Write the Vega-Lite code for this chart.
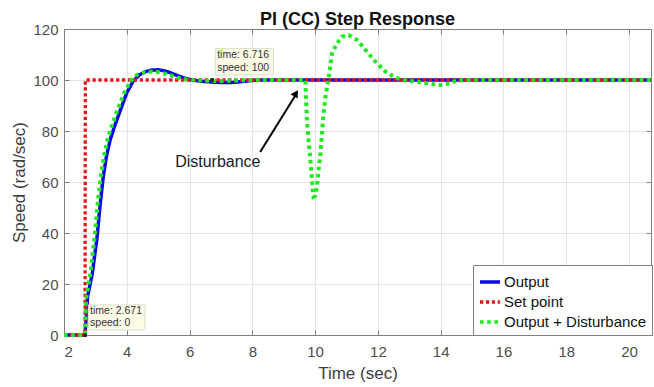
{
  "$schema": "https://vega.github.io/schema/vega-lite/v6.json",
  "width": 587,
  "height": 306,
  "autosize": {"type": "none"},
  "padding": {"left": 64, "top": 29, "right": 3, "bottom": 52},
  "title": {"text": "PI (CC) Step Response", "fontSize": 18, "fontWeight": "bold", "font": "Liberation Sans", "color": "#111111", "offset": -7, "anchor": "middle"},
  "config": {
    "view": {"stroke": "#808080", "strokeWidth": 1},
    "font": "Liberation Sans",
    "axis": {"domainColor": "#808080", "tickColor": "#808080", "gridColor": "#e4e4e4", "labelColor": "#4d4d4d", "titleColor": "#404040", "labelFontSize": 15, "titleFontSize": 17, "titleFontWeight": "normal", "labelFont": "Liberation Sans", "titleFont": "Liberation Sans", "tickSize": -5}
  },
  "datasets": {
    "curves": [
      {"series": "Output", "t": 2, "speed": 0},
      {"series": "Output", "t": 2.671, "speed": 0},
      {"series": "Output", "t": 2.75, "speed": 15},
      {"series": "Output", "t": 2.9, "speed": 24},
      {"series": "Output", "t": 3.05, "speed": 38},
      {"series": "Output", "t": 3.15, "speed": 51},
      {"series": "Output", "t": 3.25, "speed": 62},
      {"series": "Output", "t": 3.35, "speed": 70},
      {"series": "Output", "t": 3.47, "speed": 76.5},
      {"series": "Output", "t": 3.6, "speed": 81.5},
      {"series": "Output", "t": 3.79, "speed": 88},
      {"series": "Output", "t": 4.0, "speed": 95},
      {"series": "Output", "t": 4.2, "speed": 99.5},
      {"series": "Output", "t": 4.4, "speed": 102},
      {"series": "Output", "t": 4.6, "speed": 103.3},
      {"series": "Output", "t": 4.8, "speed": 103.9},
      {"series": "Output", "t": 5.0, "speed": 104},
      {"series": "Output", "t": 5.2, "speed": 103.6},
      {"series": "Output", "t": 5.4, "speed": 102.8},
      {"series": "Output", "t": 5.6, "speed": 101.8},
      {"series": "Output", "t": 5.8, "speed": 100.9},
      {"series": "Output", "t": 6.0, "speed": 100.2},
      {"series": "Output", "t": 6.3, "speed": 99.6},
      {"series": "Output", "t": 6.7, "speed": 99.2},
      {"series": "Output", "t": 7.0, "speed": 99.0},
      {"series": "Output", "t": 7.3, "speed": 99.0},
      {"series": "Output", "t": 7.6, "speed": 99.3},
      {"series": "Output", "t": 7.9, "speed": 99.7},
      {"series": "Output", "t": 8.2, "speed": 100},
      {"series": "Output", "t": 20.7, "speed": 100},
      {"series": "Set point", "t": 2, "speed": 0},
      {"series": "Set point", "t": 2.671, "speed": 0},
      {"series": "Set point", "t": 2.68, "speed": 100},
      {"series": "Set point", "t": 20.7, "speed": 100},
      {"series": "Output + Disturbance", "t": 2, "speed": 0},
      {"series": "Output + Disturbance", "t": 2.67, "speed": 0},
      {"series": "Output + Disturbance", "t": 2.7, "speed": 14},
      {"series": "Output + Disturbance", "t": 2.85, "speed": 25},
      {"series": "Output + Disturbance", "t": 2.97, "speed": 38},
      {"series": "Output + Disturbance", "t": 3.07, "speed": 51},
      {"series": "Output + Disturbance", "t": 3.17, "speed": 62},
      {"series": "Output + Disturbance", "t": 3.27, "speed": 70},
      {"series": "Output + Disturbance", "t": 3.39, "speed": 77},
      {"series": "Output + Disturbance", "t": 3.52, "speed": 82},
      {"series": "Output + Disturbance", "t": 3.71, "speed": 88.5},
      {"series": "Output + Disturbance", "t": 3.92, "speed": 95},
      {"series": "Output + Disturbance", "t": 4.12, "speed": 99.5},
      {"series": "Output + Disturbance", "t": 4.32, "speed": 102},
      {"series": "Output + Disturbance", "t": 4.55, "speed": 103},
      {"series": "Output + Disturbance", "t": 4.8, "speed": 103.3},
      {"series": "Output + Disturbance", "t": 5.0, "speed": 103.1},
      {"series": "Output + Disturbance", "t": 5.3, "speed": 102.2},
      {"series": "Output + Disturbance", "t": 5.6, "speed": 101},
      {"series": "Output + Disturbance", "t": 5.9, "speed": 100.2},
      {"series": "Output + Disturbance", "t": 6.3, "speed": 99.8},
      {"series": "Output + Disturbance", "t": 7.0, "speed": 99.6},
      {"series": "Output + Disturbance", "t": 7.5, "speed": 99.8},
      {"series": "Output + Disturbance", "t": 8.0, "speed": 100},
      {"series": "Output + Disturbance", "t": 9.69, "speed": 100},
      {"series": "Output + Disturbance", "t": 9.71, "speed": 93},
      {"series": "Output + Disturbance", "t": 9.74, "speed": 84},
      {"series": "Output + Disturbance", "t": 9.79, "speed": 76.5},
      {"series": "Output + Disturbance", "t": 9.85, "speed": 68.6},
      {"series": "Output + Disturbance", "t": 9.9, "speed": 60.8},
      {"series": "Output + Disturbance", "t": 9.95, "speed": 54.2},
      {"series": "Output + Disturbance", "t": 10.0, "speed": 54.5},
      {"series": "Output + Disturbance", "t": 10.06, "speed": 58.2},
      {"series": "Output + Disturbance", "t": 10.11, "speed": 64.7},
      {"series": "Output + Disturbance", "t": 10.17, "speed": 71.3},
      {"series": "Output + Disturbance", "t": 10.22, "speed": 79},
      {"series": "Output + Disturbance", "t": 10.27, "speed": 87},
      {"series": "Output + Disturbance", "t": 10.33, "speed": 93.5},
      {"series": "Output + Disturbance", "t": 10.43, "speed": 100.6},
      {"series": "Output + Disturbance", "t": 10.54, "speed": 110.5},
      {"series": "Output + Disturbance", "t": 10.7, "speed": 114.4},
      {"series": "Output + Disturbance", "t": 10.86, "speed": 117},
      {"series": "Output + Disturbance", "t": 11.07, "speed": 117.6},
      {"series": "Output + Disturbance", "t": 11.34, "speed": 115.7},
      {"series": "Output + Disturbance", "t": 11.66, "speed": 111},
      {"series": "Output + Disturbance", "t": 11.97, "speed": 106.5},
      {"series": "Output + Disturbance", "t": 12.24, "speed": 103.3},
      {"series": "Output + Disturbance", "t": 12.5, "speed": 101.3},
      {"series": "Output + Disturbance", "t": 12.77, "speed": 100},
      {"series": "Output + Disturbance", "t": 13.25, "speed": 99.3},
      {"series": "Output + Disturbance", "t": 13.57, "speed": 98.7},
      {"series": "Output + Disturbance", "t": 14.0, "speed": 98},
      {"series": "Output + Disturbance", "t": 14.3, "speed": 98.7},
      {"series": "Output + Disturbance", "t": 14.5, "speed": 99.7},
      {"series": "Output + Disturbance", "t": 14.8, "speed": 100},
      {"series": "Output + Disturbance", "t": 20.7, "speed": 100}
    ],
    "boxes": [
      {"t1": 2.775, "t2": 4.58, "s1": 2.0, "s2": 11.8},
      {"t1": 6.82, "t2": 8.67, "s1": 102.0, "s2": 112.4}
    ],
    "tiptext": [
      {"label": "time: 2.671", "t": 2.83, "speed": 9.6},
      {"label": "speed: 0", "t": 2.83, "speed": 4.8},
      {"label": "time: 6.716", "t": 6.88, "speed": 109.9},
      {"label": "speed: 100", "t": 6.88, "speed": 104.6}
    ],
    "tippoints": [
      {"t": 2.671, "speed": 0},
      {"t": 6.716, "speed": 100}
    ],
    "arrow": [
      {"t": 8.25, "speed": 71.8},
      {"t": 9.4, "speed": 94.5}
    ],
    "arrowhead": [
      {"t": 9.39, "speed": 94.8}
    ],
    "note": [
      {"label": "Disturbance", "t": 6.9, "speed": 67.8}
    ]
  },
  "resolve": {"axis": {"x": "independent", "y": "independent"}},
  "layer": [
    {
      "data": {"name": "curves"},
      "transform": [{"filter": "datum.series === 'Output'"}],
      "mark": {"type": "line", "strokeWidth": 3.5, "strokeCap": "butt"},
      "encoding": {
        "x": {"field": "t", "type": "quantitative", "scale": {"domain": [2, 20.7], "nice": false, "zero": false},
              "axis": {"title": "Time (sec)", "values": [2, 4, 6, 8, 10, 12, 14, 16, 18, 20], "grid": true, "labelPadding": 14, "titlePadding": 6}},
        "y": {"field": "speed", "type": "quantitative", "scale": {"domain": [0, 120], "nice": false},
              "axis": {"title": "Speed (rad/sec)", "values": [0, 20, 40, 60, 80, 100, 120], "grid": true, "labelPadding": 11, "titlePadding": 4}},
        "color": {"field": "series", "type": "nominal",
                  "scale": {"domain": ["Output", "Set point", "Output + Disturbance"], "range": ["#0a0ae6", "#e8141b", "#1ee81e"]},
                  "legend": {"title": null, "orient": "none", "legendX": 409, "legendY": 236, "padding": 5, "strokeColor": "#808080", "fillColor": "white", "labelFontSize": 15, "labelColor": "#111111", "labelFont": "Liberation Sans", "symbolType": "stroke", "symbolSize": 400, "symbolStrokeWidth": 3.5, "rowPadding": 0, "labelOffset": 2, "cornerRadius": 0}},
        "strokeDash": {"field": "series", "type": "nominal",
                       "scale": {"domain": ["Output", "Set point", "Output + Disturbance"], "range": [[1, 0], [3.3, 2.6], [3.6, 3.6]]},
                       "legend": {"title": null, "orient": "none", "legendX": 409, "legendY": 236}}
      }
    },
    {
      "data": {"name": "curves"},
      "transform": [{"filter": "datum.series === 'Set point'"}],
      "mark": {"type": "line", "strokeWidth": 3.3, "strokeCap": "butt"},
      "encoding": {
        "x": {"field": "t", "type": "quantitative", "axis": {"orient": "top", "labels": false, "title": null, "grid": false, "values": [2, 4, 6, 8, 10, 12, 14, 16, 18, 20]}},
        "y": {"field": "speed", "type": "quantitative", "axis": {"orient": "right", "labels": false, "title": null, "grid": false, "values": [0, 20, 40, 60, 80, 100, 120]}},
        "color": {"field": "series", "type": "nominal"},
        "strokeDash": {"field": "series", "type": "nominal"}
      }
    },
    {
      "data": {"name": "curves"},
      "transform": [{"filter": "datum.series === 'Output + Disturbance'"}],
      "mark": {"type": "line", "strokeWidth": 4, "strokeCap": "butt"},
      "encoding": {
        "x": {"field": "t", "type": "quantitative", "axis": null},
        "y": {"field": "speed", "type": "quantitative", "axis": null},
        "color": {"field": "series", "type": "nominal"},
        "strokeDash": {"field": "series", "type": "nominal"}
      }
    },
    {
      "data": {"name": "boxes"},
      "mark": {"type": "rect", "fill": "#fbfbe4", "fillOpacity": 0.92, "stroke": "#dcdccc", "strokeWidth": 1},
      "encoding": {
        "x": {"field": "t1", "type": "quantitative", "axis": null},
        "x2": {"field": "t2"},
        "y": {"field": "s1", "type": "quantitative", "axis": null},
        "y2": {"field": "s2"}
      }
    },
    {
      "data": {"name": "tiptext"},
      "mark": {"type": "text", "align": "left", "baseline": "middle", "fontSize": 10.5, "font": "Liberation Sans", "color": "#333333"},
      "encoding": {
        "x": {"field": "t", "type": "quantitative", "axis": null},
        "y": {"field": "speed", "type": "quantitative", "axis": null},
        "text": {"field": "label", "type": "nominal"}
      }
    },
    {
      "data": {"name": "tippoints"},
      "mark": {"type": "point", "shape": "square", "filled": true, "size": 12, "color": "#222222", "opacity": 1},
      "encoding": {
        "x": {"field": "t", "type": "quantitative", "axis": null},
        "y": {"field": "speed", "type": "quantitative", "axis": null}
      }
    },
    {
      "data": {"name": "arrow"},
      "mark": {"type": "line", "color": "#000000", "strokeWidth": 2},
      "encoding": {
        "x": {"field": "t", "type": "quantitative", "axis": null},
        "y": {"field": "speed", "type": "quantitative", "axis": null}
      }
    },
    {
      "data": {"name": "arrowhead"},
      "mark": {"type": "point", "shape": "triangle-up", "filled": true, "size": 70, "angle": 31.5, "color": "#000000", "opacity": 1},
      "encoding": {
        "x": {"field": "t", "type": "quantitative", "axis": null},
        "y": {"field": "speed", "type": "quantitative", "axis": null}
      }
    },
    {
      "data": {"name": "note"},
      "mark": {"type": "text", "align": "center", "baseline": "middle", "fontSize": 16, "font": "Liberation Sans", "color": "#1a1a1a"},
      "encoding": {
        "x": {"field": "t", "type": "quantitative", "axis": null},
        "y": {"field": "speed", "type": "quantitative", "axis": null},
        "text": {"field": "label", "type": "nominal"}
      }
    }
  ]
}
